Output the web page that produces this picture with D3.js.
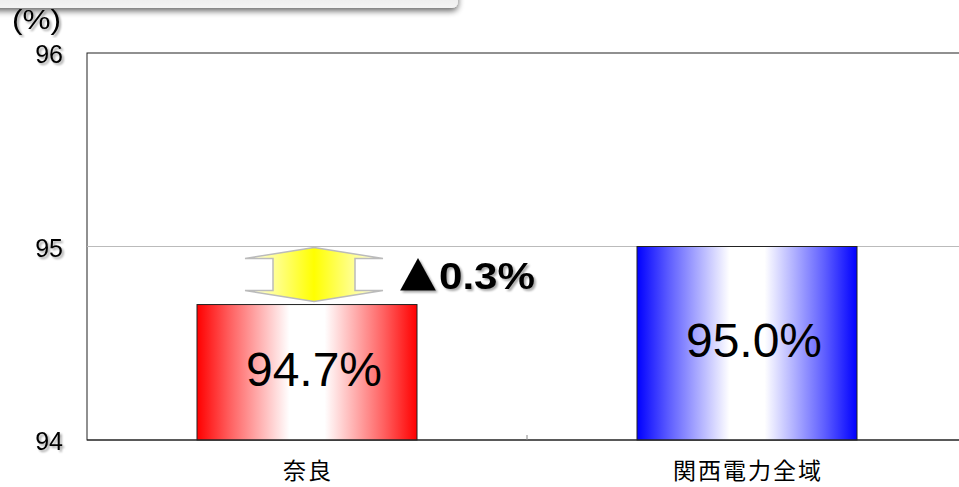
<!DOCTYPE html>
<html>
<head>
<meta charset="utf-8">
<script src="https://cdn.jsdelivr.net/npm/d3@7"></script>
<style>
  body { margin: 0; background: #fff; overflow: hidden; }
  text { font-family: "Liberation Sans", Arial, sans-serif; }
</style>
</head>
<body>
<script>
const categories = ['奈良', '関西電力全域'];
const values = [94.7, 95.0];
const valueLabels = ['94.7%', '95.0%'];
const yTicks = [94, 95, 96];
const diffMark = '▲';
const diffLabel = '0.3%';

const w = 959;
const h = 487;
const margin = { left: 87, top: 53, right: -8, bottom: 47 };
const colorSets = [['#ff0000', '#ff6060', '#ffffff'], ['#0000ff', '#6060ff', '#ffffff']];

const svg = d3.select('body')
  .append('svg')
  .attr('width', w)
  .attr('height', h)
  .style('display', 'block');

const defs = svg.append('defs');

// shadow filters
const sh = defs.append('filter').attr('id', 'shadow').attr('x', '-10%').attr('y', '-50%').attr('width', '120%').attr('height', '300%');
sh.append('feGaussianBlur').attr('in', 'SourceAlpha').attr('stdDeviation', 3);
sh.append('feOffset').attr('dy', 3).attr('result', 'b');
sh.append('feComponentTransfer').append('feFuncA').attr('type', 'linear').attr('slope', 0.6);
const m1 = sh.append('feMerge');
m1.append('feMergeNode');
m1.append('feMergeNode').attr('in', 'SourceGraphic');

const ts = defs.append('filter').attr('id', 'tshadow');
ts.append('feGaussianBlur').attr('in', 'SourceAlpha').attr('stdDeviation', 1);
ts.append('feOffset').attr('dx', 2).attr('dy', 2);
ts.append('feComponentTransfer').append('feFuncA').attr('type', 'linear').attr('slope', 0.35);
const m2 = ts.append('feMerge');
m2.append('feMergeNode');
m2.append('feMergeNode').attr('in', 'SourceGraphic');

// bar gradients: strong at the edges, white in the middle
colorSets.forEach((c, i) => {
  const g = defs.append('linearGradient').attr('id', 'grad' + i)
    .attr('x1', '0%').attr('x2', '100%').attr('y1', '0%').attr('y2', '0%');
  g.append('stop').attr('offset', '0%').attr('stop-color', c[0]);
  g.append('stop').attr('offset', '15%').attr('stop-color', c[1]);
  g.append('stop').attr('offset', '42%').attr('stop-color', c[2]);
  g.append('stop').attr('offset', '58%').attr('stop-color', c[2]);
  g.append('stop').attr('offset', '85%').attr('stop-color', c[1]);
  g.append('stop').attr('offset', '100%').attr('stop-color', c[0]);
});
const yg = defs.append('linearGradient').attr('id', 'ygrad')
  .attr('x1', '0%').attr('x2', '100%');
yg.append('stop').attr('offset', '0%').attr('stop-color', '#ffffff');
yg.append('stop').attr('offset', '50%').attr('stop-color', '#ffff00');
yg.append('stop').attr('offset', '100%').attr('stop-color', '#ffffff');

// top banner remnant
const bg = defs.append('linearGradient').attr('id', 'bgrad').attr('x1', '0%').attr('x2', '0%').attr('y1', '0%').attr('y2', '100%');
bg.append('stop').attr('offset', '0%').attr('stop-color', '#e0e0e0');
bg.append('stop').attr('offset', '100%').attr('stop-color', '#f4f4f4');
svg.append('rect')
  .attr('x', -20).attr('y', -20).attr('width', 478).attr('height', 28)
  .attr('rx', 6)
  .attr('fill', 'url(#bgrad)')
  .attr('filter', 'url(#shadow)');

const xScale = d3.scaleBand()
  .domain(categories)
  .range([margin.left, w - margin.right])
  .paddingInner(0.5)
  .paddingOuter(0.25);

const yScale = d3.scaleLinear()
  .domain([94, 96])
  .range([h - margin.bottom, margin.top]);

// plot frame
svg.append('rect')
  .attr('x', margin.left).attr('y', margin.top)
  .attr('width', w - margin.right - margin.left)
  .attr('height', yScale(94) - margin.top)
  .attr('fill', 'none')
  .attr('stroke', '#222')
  .attr('stroke-width', 1);

// grid line
svg.append('line')
  .attr('x1', margin.left).attr('x2', w)
  .attr('y1', yScale(95)).attr('y2', yScale(95))
  .attr('stroke', '#bbb');

// bars
svg.selectAll('.bar')
  .data(values)
  .enter()
  .append('rect')
  .attr('class', 'bar')
  .attr('x', (d, i) => xScale(categories[i]))
  .attr('y', (d) => yScale(d))
  .attr('width', xScale.bandwidth())
  .attr('height', (d) => yScale(94) - yScale(d))
  .attr('fill', (d, i) => `url(#grad${i})`)
  .attr('stroke', '#222')
  .attr('stroke-width', 1);

// value labels
svg.selectAll('.vlab')
  .data(values)
  .enter()
  .append('text')
  .attr('class', 'vlab')
  .attr('x', (d, i) => xScale(categories[i]) + xScale.bandwidth() / 2 + 7)
  .attr('y', (d, i) => (yScale(d) + yScale(94)) / 2 + 14)
  .attr('text-anchor', 'middle')
  .attr('font-size', 48)
  .attr('fill', '#000')
  .text((d, i) => valueLabels[i]);

// x axis (bottom line + middle tick)
const xAxisY = yScale(94);
svg.append('line')
  .attr('x1', margin.left).attr('x2', w)
  .attr('y1', xAxisY).attr('y2', xAxisY)
  .attr('stroke', '#222');
const midX = (xScale(categories[0]) + xScale(categories[1]) + xScale.bandwidth()) / 2;
svg.append('line')
  .attr('x1', midX).attr('x2', midX)
  .attr('y1', xAxisY).attr('y2', xAxisY - 5)
  .attr('stroke', '#888');

svg.selectAll('.xlab')
  .data(categories)
  .enter()
  .append('text')
  .attr('class', 'xlab')
  .attr('x', (d) => xScale(d) + xScale.bandwidth() / 2 + 1)
  .attr('y', 479)
  .attr('text-anchor', 'middle')
  .attr('font-size', 23)
  .attr('letter-spacing', 2)
  .style('font-family', '"Noto Sans CJK JP", sans-serif')
  .text((d) => d);

// y axis labels
svg.selectAll('.ylab')
  .data(yTicks)
  .enter()
  .append('text')
  .attr('class', 'ylab')
  .attr('x', 63)
  .attr('y', (d) => yScale(d) + 10)
  .attr('text-anchor', 'end')
  .attr('font-size', 25)
  .attr('filter', 'url(#tshadow)')
  .text((d) => d);

svg.append('text')
  .attr('x', 12).attr('y', 29)
  .attr('font-size', 27)
  .attr('textLength', 49)
  .attr('lengthAdjust', 'spacingAndGlyphs')
  .attr('filter', 'url(#tshadow)')
  .text('(%)');

// double arrow between the two values
const ax = 314;
const yTop = yScale(values[1]) + 1;
const yBot = yScale(values[0]) - 3;
const headW = 69, shaftW = 41, headH = 11;
const arrowPts = [
  [ax, yTop],
  [ax + headW, yTop + headH],
  [ax + shaftW, yTop + headH],
  [ax + shaftW, yBot - headH],
  [ax + headW, yBot - headH],
  [ax, yBot],
  [ax - headW, yBot - headH],
  [ax - shaftW, yBot - headH],
  [ax - shaftW, yTop + headH],
  [ax - headW, yTop + headH],
];
svg.append('path')
  .attr('d', d3.line()(arrowPts) + 'Z')
  .attr('fill', 'url(#ygrad)')
  .attr('stroke', '#bbb')
  .attr('stroke-width', 1.5);

const diff = svg.append('g').attr('filter', 'url(#tshadow)');
diff.append('text')
  .attr('x', 399)
  .attr('y', 291)
  .attr('font-size', 40)
  .attr('textLength', 38)
  .attr('lengthAdjust', 'spacingAndGlyphs')
  .style('font-family', '"Noto Sans CJK JP", sans-serif')
  .text(diffMark);
diff.append('text')
  .attr('x', 439)
  .attr('y', 289)
  .attr('font-size', 37)
  .attr('font-weight', 'bold')
  .attr('textLength', 96)
  .attr('lengthAdjust', 'spacingAndGlyphs')
  .text(diffLabel);
</script>
</body>
</html>
